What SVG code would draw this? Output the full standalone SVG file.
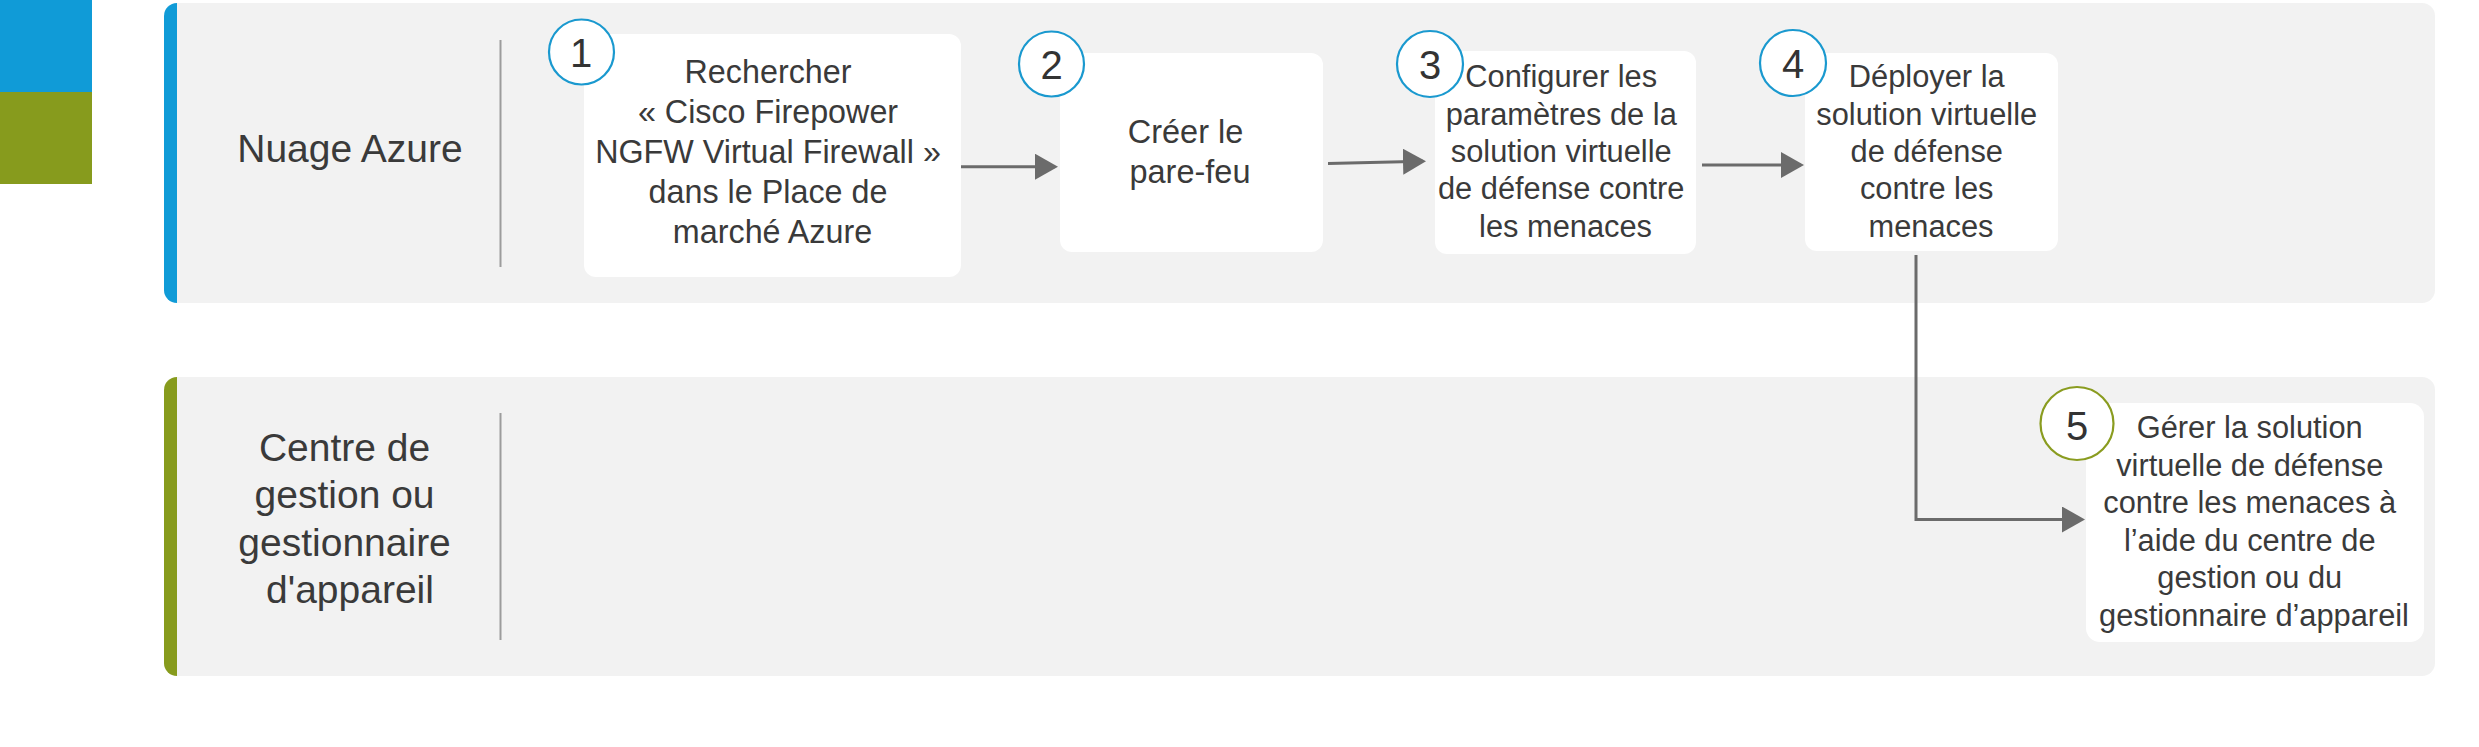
<svg xmlns="http://www.w3.org/2000/svg" width="2479" height="747" viewBox="0 0 2479 747">
  <defs>
    <marker id="ah" markerUnits="userSpaceOnUse" markerWidth="23" markerHeight="26" viewBox="0 0 23 26" refX="20" refY="13" orient="auto">
      <path d="M0,0 L23,13 L0,26 Z" fill="#6b6b6b"/>
    </marker>
  </defs>
  <style>
    .panel { fill: #f2f2f2; }
    .box { fill: #ffffff; }
    .div { stroke: #9c9c9c; stroke-width: 2; fill: none; }
    .lane { font-family: "Liberation Sans", Arial, sans-serif; font-size: 39px; fill: #3a3a3a; text-anchor: middle; }
    .t { font-family: "Liberation Sans", Arial, sans-serif; fill: #3a3a3a; text-anchor: middle; }
    .num { font-family: "Liberation Sans", Arial, sans-serif; font-size: 40px; fill: #333333; text-anchor: middle; }
    .cb { fill: #ffffff; stroke: #1a99cf; stroke-width: 2.2; }
    .cg { fill: #ffffff; stroke: #8a9c20; stroke-width: 2.2; }
    .conn { stroke: #6b6b6b; stroke-width: 3; fill: none; marker-end: url(#ah); }
  </style>

  <g id="legend">
    <rect x="0" y="0" width="92" height="92" fill="#109bd7"/>
    <rect x="0" y="92" width="92" height="92" fill="#879b1d"/>
  </g>

  <g id="lane-azure">
    <rect x="164" y="3" width="40" height="300" rx="13" fill="#109bd7"/>
    <path class="panel" d="M177,3 H2422 A13,13 0 0 1 2435,16 V290 A13,13 0 0 1 2422,303 H177 Z"/>
    <text class="lane" x="350" y="161.5">Nuage Azure</text>
    <line class="div" x1="500.5" y1="40" x2="500.5" y2="267"/>
  </g>

  <g id="lane-mgmt">
    <rect x="164" y="377" width="40" height="299" rx="13" fill="#879b1d"/>
    <path class="panel" d="M177,377 H2422 A13,13 0 0 1 2435,390 V663 A13,13 0 0 1 2422,676 H177 Z"/>
    <text class="lane" x="350">
      <tspan x="350" y="460.7">Centre de</tspan>
      <tspan x="350" y="508.3">gestion ou</tspan>
      <tspan x="350" y="555.5">gestionnaire</tspan>
      <tspan x="350" y="603.2">d'appareil</tspan>
    </text>
    <line class="div" x1="500.5" y1="413" x2="500.5" y2="640"/>
  </g>

  <g id="connectors">
    <line class="conn" x1="961" y1="166.7" x2="1055" y2="166.7"/>
    <line class="conn" x1="1328" y1="163.5" x2="1423" y2="161.2"/>
    <line class="conn" x1="1702" y1="165" x2="1801" y2="165"/>
    <polyline class="conn" points="1916,255 1916,519.5 2082,519.5"/>
  </g>

  <g id="step1">
    <rect class="box" x="584" y="34" width="377" height="243" rx="12"/>
    <circle class="cb" cx="581.5" cy="52" r="32.5"/>
    <text class="num" x="581" y="67">1</text>
    <text class="t" font-size="32.3">
      <tspan x="772.5" y="83">Rechercher</tspan>
      <tspan x="772.5" y="123">« Cisco Firepower</tspan>
      <tspan x="772.5" y="163">NGFW Virtual Firewall »</tspan>
      <tspan x="772.5" y="203">dans le Place de</tspan>
      <tspan x="772.5" y="243">marché Azure</tspan>
    </text>
  </g>

  <g id="step2">
    <rect class="box" x="1060" y="53" width="263" height="199" rx="12"/>
    <circle class="cb" cx="1051.5" cy="64" r="32.5"/>
    <text class="num" x="1051.5" y="79">2</text>
    <text class="t" font-size="32.5">
      <tspan x="1190" y="142.7">Créer le</tspan>
      <tspan x="1190" y="182.7">pare-feu</tspan>
    </text>
  </g>

  <g id="step3">
    <rect class="box" x="1435" y="51" width="261" height="203" rx="12"/>
    <circle class="cb" cx="1430" cy="64" r="33"/>
    <text class="num" x="1430" y="79">3</text>
    <text class="t" font-size="30.8">
      <tspan x="1565.5" y="87.3">Configurer les</tspan>
      <tspan x="1565.5" y="124.6">paramètres de la</tspan>
      <tspan x="1565.5" y="162">solution virtuelle</tspan>
      <tspan x="1565.5" y="199.3">de défense contre</tspan>
      <tspan x="1565.5" y="236.7">les menaces</tspan>
    </text>
  </g>

  <g id="step4">
    <rect class="box" x="1805" y="53" width="253" height="198" rx="12"/>
    <circle class="cb" cx="1793" cy="63" r="33"/>
    <text class="num" x="1793" y="78">4</text>
    <text class="t" font-size="30.8">
      <tspan x="1931" y="87.3">Déployer la</tspan>
      <tspan x="1931" y="124.6">solution virtuelle</tspan>
      <tspan x="1931" y="162">de défense</tspan>
      <tspan x="1931" y="199.3">contre les</tspan>
      <tspan x="1931" y="236.7">menaces</tspan>
    </text>
  </g>

  <g id="step5">
    <rect class="box" x="2086" y="403" width="338" height="239" rx="14"/>
    <circle class="cg" cx="2077" cy="423.5" r="36.5"/>
    <text class="num" x="2077" y="440" font-size="42">5</text>
    <text class="t" font-size="30.8">
      <tspan x="2254" y="438.3">Gérer la solution</tspan>
      <tspan x="2254" y="475.7">virtuelle de défense</tspan>
      <tspan x="2254" y="513.3">contre les menaces à</tspan>
      <tspan x="2254" y="550.7">l’aide du centre de</tspan>
      <tspan x="2254" y="588.3">gestion ou du</tspan>
      <tspan x="2254" y="625.7">gestionnaire d’appareil</tspan>
    </text>
  </g>
</svg>
